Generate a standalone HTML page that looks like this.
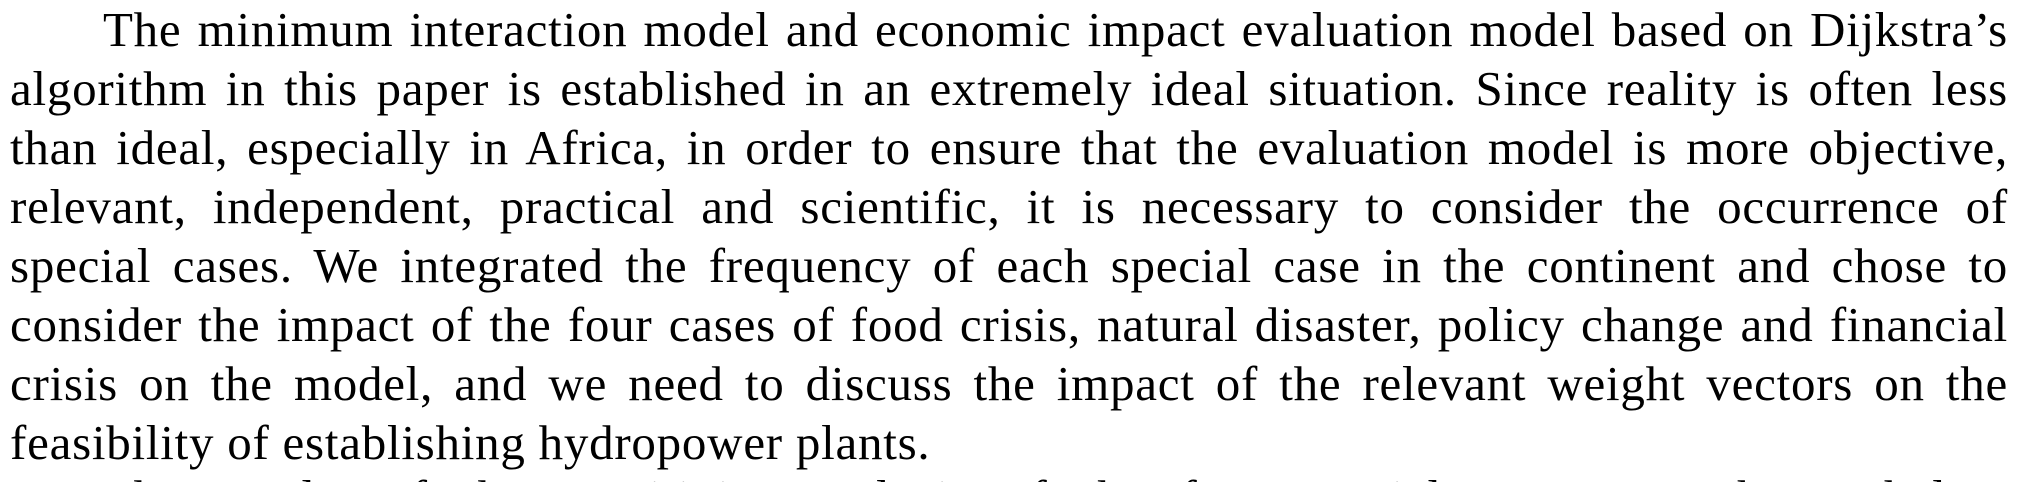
<!DOCTYPE html>
<html>
<head>
<meta charset="utf-8">
<style>
html,body{margin:0;padding:0;background:#fff;}
#clip{width:2018px;height:482px;overflow:hidden;position:relative;background:#fff;}
.para{position:absolute;left:10px;top:0;width:1998px;font-family:"Liberation Serif",serif;font-size:49px;line-height:59px;color:#000;margin:0;letter-spacing:0.75px;}
.ln{display:block;text-align:justify;text-align-last:justify;white-space:nowrap;height:59px;}
.ln.wrap{white-space:normal;}
.ln.first{padding-left:93px;}
.ln.last{text-align-last:left;}
.next{top:468px;height:14px;overflow:hidden;}
</style>
</head>
<body>
<div id="clip">
<div class="para">
<span class="ln wrap first">The minimum interaction model and economic impact evaluation model based on Dijkstra’s</span>
<span class="ln wrap">algorithm in this paper is established in an extremely ideal situation. Since reality is often less</span>
<span class="ln wrap">than ideal, especially in Africa, in order to ensure that the evaluation model is more objective,</span>
<span class="ln wrap">relevant, independent, practical and scientific, it is necessary to consider the occurrence of</span>
<span class="ln wrap">special cases. We integrated the frequency of each special case in the continent and chose to</span>
<span class="ln wrap">consider the impact of the four cases of food crisis, natural disaster, policy change and financial</span>
<span class="ln wrap">crisis on the model, and we need to discuss the impact of the relevant weight vectors on the</span>
<span class="ln last">feasibility of establishing hydropower plants.</span>
</div>
<div class="para next">
<span class="ln wrap first">The results of the sensitivity analysis of the four special cases are shown below</span>
</div>
</div>
</body>
</html>
